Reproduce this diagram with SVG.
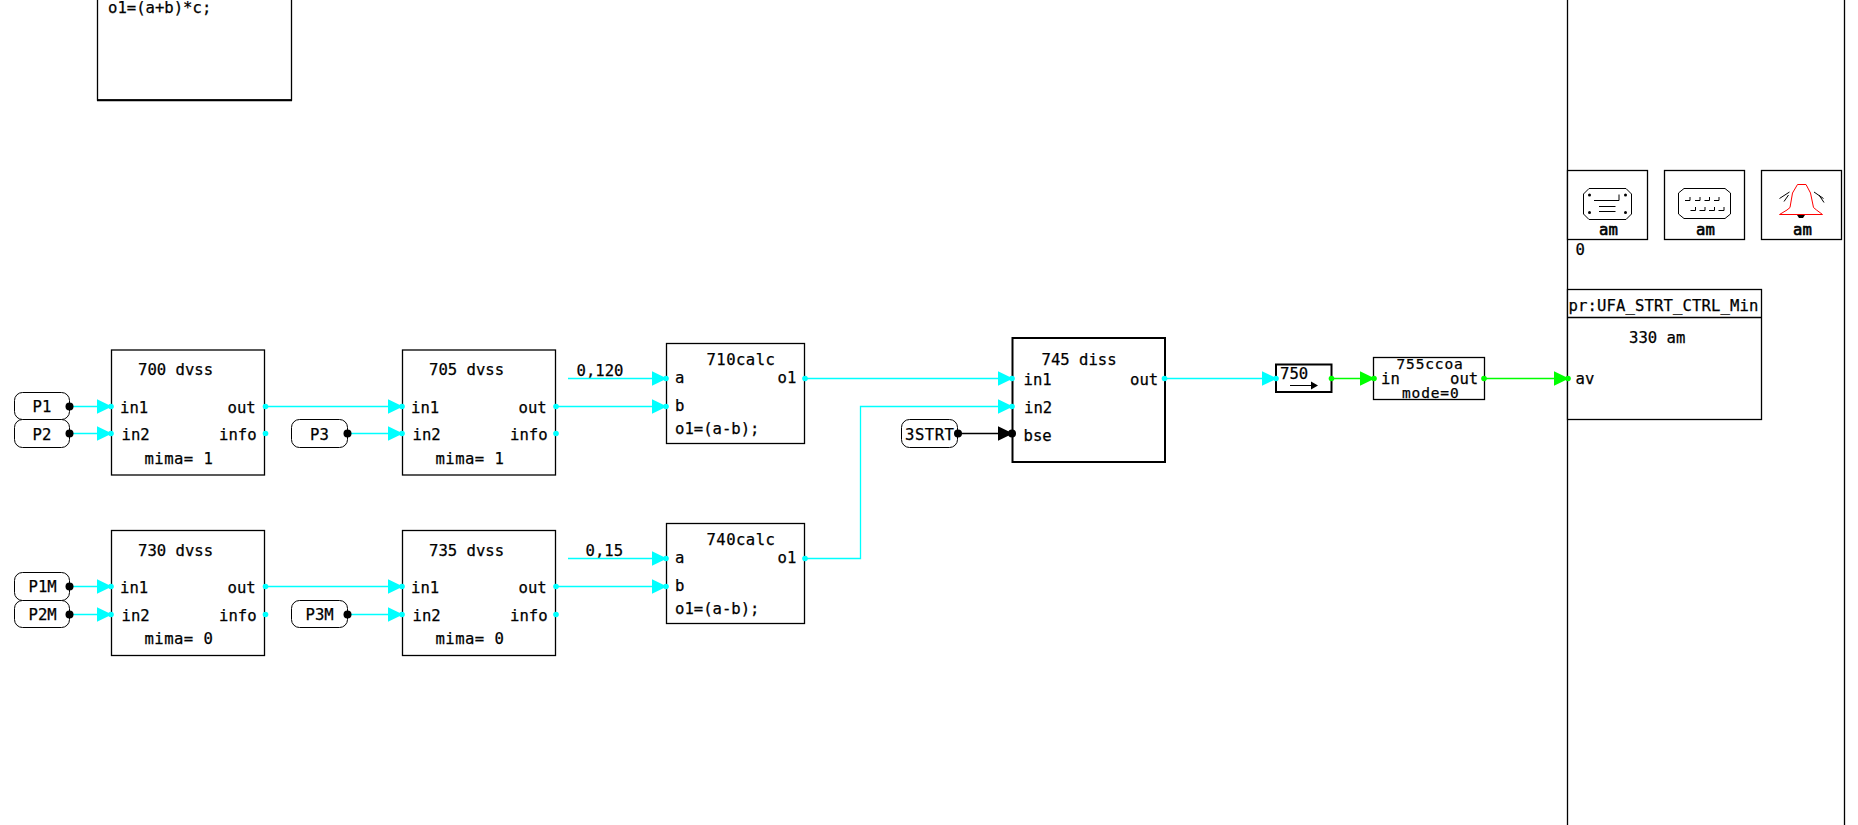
<svg xmlns="http://www.w3.org/2000/svg" width="1858" height="825" viewBox="0 0 1858 825">
<style>
text{font-family:"DejaVu Sans Mono","Liberation Mono",monospace;font-size:15.6px;fill:#000;stroke:#000;stroke-width:.25;white-space:pre}
.b{fill:#fff;stroke:#000;stroke-width:1.3}
.h{fill:#fff;stroke:#000;stroke-width:2}
.p{fill:#fff;stroke:#000;stroke-width:1}
.c{fill:none;stroke:#00ffff;stroke-width:1.3}
.g{fill:none;stroke:#00ff00;stroke-width:1.3}
.k{fill:none;stroke:#000;stroke-width:1.3}
.i{fill:none;stroke:#000;stroke-width:1}
.m{letter-spacing:.45px}
.s{font-size:14.5px;letter-spacing:.85px}
.a{stroke-width:.6}
</style>
<defs>
<path id="hc" d="M-15,-7.300 L0,0 L-15,7.300Z" fill="#00ffff"/>
<path id="hg" d="M-15,-7.300 L0,0 L-15,7.300Z" fill="#00ff00"/>
<path id="hk" d="M-15,-7.300 L0,0 L-15,7.300Z" fill="#000"/>
<circle id="dc" r="2.800" fill="#00ffff"/>
<circle id="dg" r="2.800" fill="#00ff00"/>
<circle id="dk" r="4" fill="#000"/>
</defs>
<rect width="1858" height="825" fill="#fff"/>

<g id="frame"><path d="M1567.500,0V825" stroke="#000" stroke-width="1.300"/><path d="M1844.500,0V825" stroke="#000" stroke-width="1.300"/></g>

<g id="n-top"><rect class="b" x="97.500" y="-20" width="194" height="120"/><path d="M97,100.300H292" stroke="#000" stroke-width="2"/><text x="108" y="13">o1=(a+b)*c;</text></g>

<g id="n700"><rect class="b" x="111.500" y="350" width="153" height="125"/><text x="138" y="375">700 dvss</text><text x="120" y="413">in1</text><text x="227.500" y="413">out</text><text x="121.500" y="440">in2</text><text x="219" y="440">info</text><text class="m" x="144.500" y="464">mima= 1</text></g>
<g id="n705"><rect class="b" x="402.500" y="350" width="153" height="125"/><text x="429" y="375">705 dvss</text><text x="411" y="413">in1</text><text x="518.500" y="413">out</text><text x="412.500" y="440">in2</text><text x="510" y="440">info</text><text class="m" x="435.500" y="464">mima= 1</text></g>
<g id="n730"><rect class="b" x="111.500" y="530.500" width="153" height="125"/><text x="138" y="555.500">730 dvss</text><text x="120" y="593">in1</text><text x="227.500" y="593">out</text><text x="121.500" y="621">in2</text><text x="219" y="621">info</text><text class="m" x="144.500" y="644">mima= 0</text></g>
<g id="n735"><rect class="b" x="402.500" y="530.500" width="153" height="125"/><text x="429" y="555.500">735 dvss</text><text x="411" y="593">in1</text><text x="518.500" y="593">out</text><text x="412.500" y="621">in2</text><text x="510" y="621">info</text><text class="m" x="435.500" y="644">mima= 0</text></g>

<g id="pP1"><rect class="p" x="14.500" y="392.500" width="55" height="27" rx="8"/><text x="32.500" y="412">P1</text></g>
<g id="pP2"><rect class="p" x="14.500" y="419.500" width="55" height="28" rx="8"/><text x="32.500" y="439.500">P2</text></g>
<g id="pP3"><rect class="p" x="291.500" y="419.500" width="56" height="28" rx="8"/><text x="310" y="439.500">P3</text></g>
<g id="pP1M"><rect class="p" x="14.500" y="572.500" width="55" height="28" rx="8"/><text x="28.500" y="592">P1M</text></g>
<g id="pP2M"><rect class="p" x="14.500" y="600.500" width="55" height="27" rx="8"/><text x="28.500" y="620">P2M</text></g>
<g id="pP3M"><rect class="p" x="291.500" y="600.500" width="56" height="27" rx="8"/><text x="305.500" y="620">P3M</text></g>

<g id="n710"><rect class="b" x="666.500" y="343.500" width="138" height="100"/><text class="m" x="706.500" y="364.500">710calc</text><text x="675" y="383">a</text><text x="777.500" y="383">o1</text><text x="675" y="411">b</text><text x="675" y="434">o1=(a-b);</text></g>
<g id="n740"><rect class="b" x="666.500" y="523.500" width="138" height="100"/><text class="m" x="706.500" y="544.500">740calc</text><text x="675" y="563">a</text><text x="777.500" y="563">o1</text><text x="675" y="591">b</text><text x="675" y="614">o1=(a-b);</text></g>

<g id="n745"><rect class="h" x="1012.500" y="338" width="152.500" height="124"/><text x="1041.500" y="365">745 diss</text><text x="1023.500" y="385">in1</text><text x="1130" y="385">out</text><text x="1024" y="413">in2</text><text x="1023.500" y="441">bse</text></g>
<g id="p3STRT"><rect class="p" x="901.500" y="419.500" width="56" height="28" rx="8"/><text x="905" y="440" textLength="49" lengthAdjust="spacing">3STRT</text></g>

<g id="n750"><rect class="h" x="1276" y="364.500" width="55.500" height="27.500"/><text x="1280" y="378.500">750</text><path d="M1290,385.500H1312" stroke="#000" stroke-width="1"/><path d="M1311,381.500L1318,385.500L1311,389.500Z" fill="#000"/></g>
<g id="n755"><rect class="b" x="1373.500" y="357.500" width="111" height="42"/><text class="s" x="1396.500" y="369">755ccoa</text><text x="1381" y="384">in</text><text x="1450" y="384">out</text><text class="s" x="1402" y="397.500">mode=0</text></g>

<g id="n330"><rect class="b" x="1567.500" y="289.500" width="194" height="130"/><path d="M1567.500,317.500H1761.500" stroke="#000" stroke-width="1.300"/><text x="1568.500" y="311" textLength="190" lengthAdjust="spacing">pr:UFA_STRT_CTRL_Min</text><text x="1629" y="343">330 am</text><text x="1575.500" y="384">av</text></g>

<g id="icon1"><rect class="b" x="1567.500" y="170.500" width="80" height="69"/>
<path class="i" d="M1589,188.500H1626L1631.500,194V214L1626,219.500H1589L1583.500,214V194Z"/>
<circle cx="1589.500" cy="195" r="1.500"/><circle cx="1625.500" cy="195" r="1.500"/><circle cx="1589.500" cy="212.500" r="1.500"/><circle cx="1625.500" cy="212.500" r="1.500"/>
<path class="i" d="M1594,200.500H1619V194.500M1599,206.500H1615.500M1599,211.500H1615.500"/>
<text class="a" x="1599" y="234.500">am</text></g>
<g id="icon2"><rect class="b" x="1664.500" y="170.500" width="80" height="69"/>
<path class="i" d="M1684,188.500H1725L1730.500,193V214L1725,218.500H1684L1678.500,214V193Z"/>
<path class="i" d="M1685,200.500H1690V197M1695,200.500H1700V197M1704.500,200.500H1709.500V197M1714,200.500H1719V197M1690.500,210.500H1695.500V207M1699.500,210.500H1705V207M1709,210.500H1714.500V207M1718.500,210.500H1724V207"/>
<text class="a" x="1696" y="234.500">am</text></g>
<g id="icon3"><rect class="b" x="1761.500" y="170.500" width="80" height="69"/>
<path d="M1779.500,214.500L1787,210L1790,207.500L1792.500,193L1797.500,184.500H1806L1810.500,193L1813.500,207.500L1816.500,210L1822.500,214.500Z" fill="none" stroke="#ff0000" stroke-width="1"/>
<path class="i" d="M1779.500,198.500L1789.500,192M1784,201.500L1788.500,195M1814,192L1823.500,198.500M1819,195L1824,202.500"/>
<path d="M1797,215H1805L1803,218H1799Z" fill="#000"/>
<text class="a" x="1793" y="234.500">am</text></g>
<g id="t0"><text x="1575.500" y="255">0</text></g>

<g id="labels"><text x="576.500" y="375.500">0,120</text><text x="585.500" y="556">0,15</text></g>

<g id="connectors">
<path class="c" d="M69,406.500H111M69,433.500H111M265,406.500H402M347,433.500H402M555,406.500H666"/>
<path class="c" d="M568,378.500H666M568,558.500H666"/>
<path class="c" d="M69,586.500H111M69,614.500H111M265,586.500H402M347,614.500H402M555,586.500H666"/>
<path class="c" d="M804,378.500H1012M804,558.500H860.500V406.500H1012M1164,378.500H1276"/>
<path class="k" d="M958,433.500H1012"/>
<path class="g" d="M1331.500,378.500H1373M1484,378.500H1567"/>
<use href="#hc" x="112" y="406.500"/><use href="#hc" x="112" y="433.500"/><use href="#hc" x="403" y="406.500"/><use href="#hc" x="403" y="433.500"/>
<use href="#hc" x="112" y="586.500"/><use href="#hc" x="112" y="614.500"/><use href="#hc" x="403" y="586.500"/><use href="#hc" x="403" y="614.500"/>
<use href="#hc" x="667" y="378.500"/><use href="#hc" x="667" y="406.500"/><use href="#hc" x="667" y="558.500"/><use href="#hc" x="667" y="586.500"/>
<use href="#hc" x="1013" y="378.500"/><use href="#hc" x="1013" y="406.500"/><use href="#hk" x="1013" y="433.500"/>
<use href="#hc" x="1277" y="378.500"/><use href="#hg" x="1375" y="378.500"/><use href="#hg" x="1569" y="378.500"/>
<use href="#dc" x="111" y="406.500"/><use href="#dc" x="111" y="433.500"/><use href="#dc" x="402" y="406.500"/><use href="#dc" x="402" y="433.500"/>
<use href="#dc" x="111" y="586.500"/><use href="#dc" x="111" y="614.500"/><use href="#dc" x="402" y="586.500"/><use href="#dc" x="402" y="614.500"/>
<use href="#dc" x="666" y="378.500"/><use href="#dc" x="666" y="406.500"/><use href="#dc" x="666" y="558.500"/><use href="#dc" x="666" y="586.500"/>
<use href="#dc" x="1012" y="378.500"/><use href="#dc" x="1012" y="406.500"/><use href="#dk" x="1012" y="433.500"/>
<use href="#dc" x="1276" y="378.500"/><use href="#dg" x="1374" y="378.500"/><use href="#dg" x="1568" y="378.500"/>
<use href="#dc" x="265.500" y="406.500"/><use href="#dc" x="265.500" y="433.500"/><use href="#dc" x="556" y="406.500"/><use href="#dc" x="556" y="433.500"/>
<use href="#dc" x="265.500" y="586.500"/><use href="#dc" x="265.500" y="614.500"/><use href="#dc" x="556" y="586.500"/><use href="#dc" x="556" y="614.500"/>
<use href="#dc" x="805" y="378.500"/><use href="#dc" x="805" y="558.500"/><use href="#dc" x="1164.500" y="378.500"/>
<use href="#dg" x="1331.500" y="378.500"/><use href="#dg" x="1484" y="378.500"/>
<use href="#dk" x="69.500" y="406.500"/><use href="#dk" x="69.500" y="433.500"/><use href="#dk" x="347.500" y="433.500"/>
<use href="#dk" x="69.500" y="586.500"/><use href="#dk" x="69.500" y="614.500"/><use href="#dk" x="347.500" y="614.500"/>
<use href="#dk" x="958" y="433.500"/>
</g>
</svg>
